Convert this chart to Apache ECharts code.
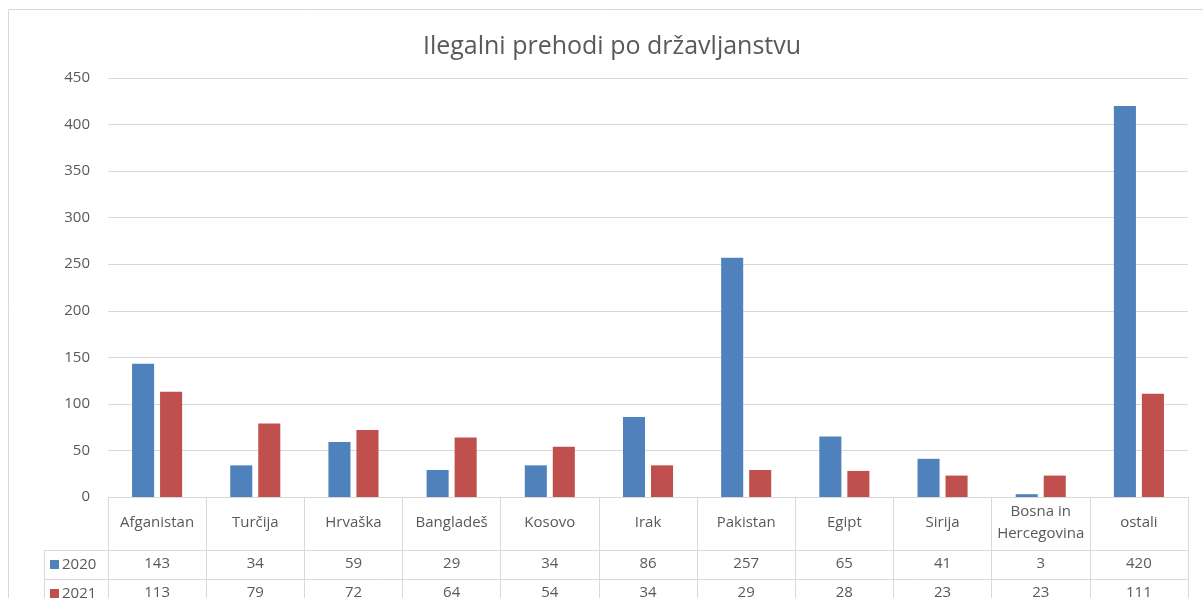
<!DOCTYPE html>
<html>
<head>
<meta charset="utf-8">
<script src="https://cdn.jsdelivr.net/npm/echarts@6/dist/echarts.min.js"></script>
<style>
  html, body { margin: 0; padding: 0; background: #fff; }
  #chart-container { width: 1203px; height: 598px; }
</style>
</head>
<body>
<div id="chart-container"></div>
<script>
var categories = ["Afganistan", "Turčija", "Hrvaška", "Bangladeš", "Kosovo", "Irak", "Pakistan", "Egipt", "Sirija", "Bosna in\nHercegovina", "ostali"];
var values2020 = [143, 34, 59, 29, 34, 86, 257, 65, 41, 3, 420];
var values2021 = [113, 79, 72, 64, 54, 34, 29, 28, 23, 23, 111];
var yTicks = [0, 50, 100, 150, 200, 250, 300, 350, 400, 450];

var dom = document.getElementById("chart-container");
var myChart = echarts.init(dom, null, { renderer: "canvas" });

var font = "'Open Sans', 'Noto Sans', sans-serif";
var textColor = "#595959";
var lineColor = "#d9d9d9";
var blue = "#4f81bd";
var red = "#c0504d";

function tableAxis(offset, values) {
  return {
    type: "category",
    data: categories,
    position: "bottom",
    offset: offset,
    axisLine: { show: true, lineStyle: { color: lineColor, width: 1 } },
    axisTick: { show: false },
    axisLabel: {
      interval: 0,
      margin: 14,
      color: textColor,
      fontFamily: font,
      fontSize: 15,
      verticalAlign: "middle",
      formatter: function (v, i) { return String(values[i]); },
    },
  };
}

var option = {
  animation: false,
  textStyle: { fontFamily: font },
  title: {
    text: "Ilegalni prehodi po državljanstvu",
    left: 607,
    textAlign: "center",
    top: 29,
    textStyle: { fontFamily: font, fontSize: 25, fontWeight: "normal", color: textColor },
  },
  grid: { left: 108, right: 15, top: 78, bottom: 101, containLabel: false, outerBoundsMode: "none" },
  xAxis: [
    {
      type: "category",
      data: categories,
      position: "bottom",
      axisLine: { show: true, lineStyle: { color: lineColor } },
      axisTick: { show: true, length: 112, lineStyle: { color: lineColor } },
      axisLabel: {
        interval: 0,
        margin: 26,
        color: textColor,
        fontFamily: font,
        fontSize: 15,
        lineHeight: 22,
        verticalAlign: "middle",
      },
    },
    tableAxis(53, values2020),
    tableAxis(82, values2021),
  ],
  yAxis: {
    type: "value",
    min: yTicks[0],
    max: yTicks[yTicks.length - 1],
    interval: 50,
    axisLine: { show: false },
    axisTick: { show: false },
    axisLabel: { margin: 18, color: textColor, fontFamily: font, fontSize: 15 },
    splitLine: { lineStyle: { color: lineColor, width: 1 } },
  },
  series: [
    {
      name: "2020",
      type: "bar",
      xAxisIndex: 0,
      data: values2020,
      barGap: "27%",
      barCategoryGap: "49%",
      itemStyle: { color: blue },
    },
    {
      name: "2021",
      type: "bar",
      xAxisIndex: 0,
      data: values2021,
      itemStyle: { color: red },
    },
  ],
  graphic: [
    // chart frame
    { type: "rect", shape: { x: 8.5, y: 9.5, width: 1210, height: 620 }, style: { fill: null, stroke: lineColor, lineWidth: 1 }, silent: true },
    // legend column of the data table
    { type: "line", shape: { x1: 44.5, y1: 550, x2: 44.5, y2: 610 }, style: { stroke: lineColor, lineWidth: 1 } },
    { type: "line", shape: { x1: 44, y1: 550.5, x2: 108, y2: 550.5 }, style: { stroke: lineColor, lineWidth: 1 } },
    { type: "line", shape: { x1: 44, y1: 579.5, x2: 108, y2: 579.5 }, style: { stroke: lineColor, lineWidth: 1 } },
    { type: "rect", shape: { x: 50, y: 560, width: 9, height: 9 }, style: { fill: blue } },
    { type: "text", x: 62, y: 565, style: { text: "2020", fill: textColor, font: "15px " + font, verticalAlign: "middle" } },
    { type: "rect", shape: { x: 50, y: 589, width: 9, height: 9 }, style: { fill: red } },
    { type: "text", x: 62, y: 594, style: { text: "2021", fill: textColor, font: "15px " + font, verticalAlign: "middle" } },
  ],
};

myChart.setOption(option);
window.addEventListener("resize", myChart.resize);
</script>
</body>
</html>
